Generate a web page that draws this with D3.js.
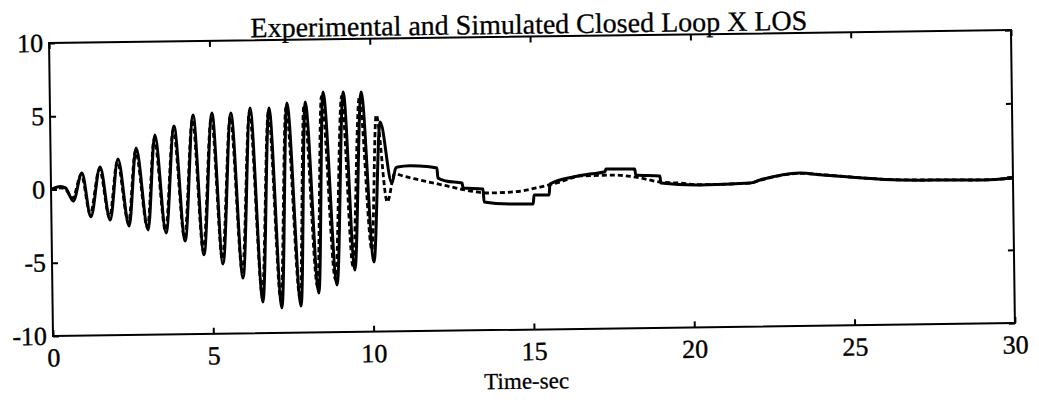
<!DOCTYPE html>
<html>
<head>
<meta charset="utf-8">
<script src="https://cdn.jsdelivr.net/npm/d3@7/dist/d3.min.js"></script>
<style>
  html, body { margin: 0; padding: 0; background: #fff; }
  svg { display: block; }
  text { font-family: "Liberation Serif", "Times New Roman", serif; fill: #000; }
</style>
</head>
<body>
<svg id="chart" width="1039" height="410"></svg>
<script>
// Experimental (solid) X line-of-sight response, time in seconds
const timeExp = [0, 0.3, 0.45, 0.69, 0.97, 1.23, 1.54, 1.83, 2.10, 2.42, 2.67, 3.01, 3.26, 3.57, 3.86, 4.16,
  4.46, 4.74, 5.05, 5.33, 5.64, 5.95, 6.24, 6.56, 6.83, 7.15, 7.39, 7.75, 7.96, 8.31, 8.52, 8.88,
  9.15, 9.44, 9.71, 10.04, 10.29, 10.63, 10.76, 10.82, 11.2, 11.51, 12.04, 12.07, 12.32, 12.82, 12.85,
  13.47, 13.50, 14.31, 15.03, 15.06, 15.53, 15.56, 16.28, 16.81, 17.28, 17.31, 18.21, 18.24, 18.99,
  19.02, 20.24, 21.80, 22.11, 23.36, 24.07, 24.92, 26.48, 28.04, 29.07, 30.0];
const xlosExp = [0, 0.2, 0.1, -0.8, 1.1, -1.9, 1.5, -2.14, 2.02, -2.56, 2.76, -2.85, 3.62, -3.07, 4.22, -3.64,
  4.96, -4.6, 5.08, -5.24, 5.06, -6.22, 5.38, -7.87, 5.37, -8.3, 5.69, -8.18, 5.74, -7.31, 6.41, -6.78,
  6.39, -5.77, 6.37, -5.24, 4.31, 0.13, 1.15, 1.22, 1.3, 1.26, 1.11, 0.43, 0.22, 0.07, -0.28,
  -0.36, -1.25, -1.41, -1.43, -0.82, -0.83, -0.08, 0.38, 0.56, 0.70, 0.89, 0.86, 0.45, 0.36,
  -0.12, -0.29, -0.2, 0.0, 0.44, 0.28, 0.12, -0.13, -0.18, -0.21, -0.1];

// Simulated (dashed) response
const timeSim = [0, 0.3, 0.45, 0.67, 0.95, 1.21, 1.52, 1.81, 2.08, 2.40, 2.65, 2.99, 3.24, 3.55, 3.84, 4.14,
  4.44, 4.72, 5.03, 5.31, 5.62, 5.93, 6.22, 6.54, 6.81, 7.12, 7.36, 7.72, 7.92, 8.27, 8.47, 8.83,
  9.10, 9.38, 9.65, 9.98, 10.17, 10.48, 10.73, 10.89, 11.51, 12.35, 12.76, 13.69, 14.41, 15.25,
  15.87, 16.50, 17.53, 18.37, 18.99, 19.62, 20.24, 21.80, 22.11, 23.36, 24.07, 24.92, 26.48, 28.04,
  29.07, 30.0];
const xlosSim = [0, 0.1, 0.0, -0.6, 1.0, -1.7, 1.35, -1.95, 1.85, -2.35, 2.55, -2.65, 3.35, -2.9, 3.95, -3.4,
  4.65, -4.3, 4.8, -4.9, 4.8, -5.8, 5.1, -7.3, 5.1, -7.8, 5.4, -7.7, 5.5, -6.9, 6.1, -6.4,
  6.1, -5.5, 6.0, -4.42, 4.79, -1.16, 0.81, 0.67, 0.31, -0.12, -0.34, -0.64, -0.59, -0.28,
  0.04, 0.44, 0.47, 0.25, -0.05, -0.14, -0.27, -0.2, -0.02, 0.42, 0.3, 0.12, -0.12, -0.17,
  -0.2, -0.1];

const xTickValues = [0, 5, 10, 15, 20, 25, 30];
const yTickValues = [-10, -5, 0, 5, 10];

const titleText = "Experimental and Simulated Closed Loop X LOS";
const xLabelText = "Time-sec";

const plot = { left: 53, top: 43, width: 962, height: 293 };
const tilt = -0.77;

const svg = d3.select("#chart");
const root = svg.append("g")
  .attr("transform", `rotate(${tilt},${plot.left},${plot.top + plot.height})`);

const x = d3.scaleLinear().domain([0, 30]).range([plot.left, plot.left + plot.width]);
const y = d3.scaleLinear().domain([-10, 10]).range([plot.top + plot.height, plot.top]);

const expData = timeExp.map((t, i) => [t, xlosExp[i]]);
const simData = timeSim.map((t, i) => [t, xlosSim[i]]);

const line = d3.line()
  .x(d => x(d[0]))
  .y(d => y(d[1]))
  .curve(d3.curveMonotoneX);

root.append("path")
  .datum(expData)
  .attr("d", line)
  .attr("fill", "none")
  .attr("stroke", "#000")
  .attr("stroke-width", 3)
  .attr("stroke-linejoin", "round");

root.append("path")
  .datum(simData)
  .attr("d", line)
  .attr("fill", "none")
  .attr("stroke", "#000")
  .attr("stroke-width", 2.8)
  .attr("stroke-dasharray", "5,3");

// Frame
root.append("rect")
  .attr("x", plot.left).attr("y", plot.top)
  .attr("width", plot.width).attr("height", plot.height)
  .attr("fill", "none").attr("stroke", "#000").attr("stroke-width", 2);

const fontSize = 26;

const bottomAxis = root.append("g")
  .attr("transform", `translate(0,${plot.top + plot.height})`)
  .call(d3.axisBottom(x).tickValues(xTickValues).tickSizeInner(-6).tickSizeOuter(0).tickPadding(12)
    .tickFormat(d3.format("d")));
const leftAxis = root.append("g")
  .attr("transform", `translate(${plot.left},0)`)
  .call(d3.axisLeft(y).tickValues(yTickValues).tickSizeInner(-6).tickSizeOuter(0).tickPadding(6)
    .tickFormat(d => d < 0 ? "-" + Math.abs(d) : String(d)));
const topAxis = root.append("g")
  .attr("transform", `translate(0,${plot.top})`)
  .call(d3.axisTop(x).tickValues(xTickValues).tickSizeInner(-6).tickSizeOuter(0).tickFormat(""));
const rightAxis = root.append("g")
  .attr("transform", `translate(${plot.left + plot.width},0)`)
  .call(d3.axisRight(y).tickValues(yTickValues).tickSizeInner(-6).tickSizeOuter(0).tickFormat(""));

[bottomAxis, leftAxis, topAxis, rightAxis].forEach(a => {
  a.select(".domain").remove();
  a.selectAll(".tick line").attr("stroke", "#000").attr("stroke-width", 2);
  a.selectAll(".tick text")
    .attr("font-family", "'Liberation Serif', 'Times New Roman', serif")
    .attr("font-size", fontSize)
    .attr("fill", "#000")
    .attr("stroke", "#000")
    .attr("stroke-width", 0.4);
});

root.append("text")
  .attr("x", plot.left + plot.width / 2 - 1)
  .attr("y", plot.top - 3)
  .attr("text-anchor", "middle")
  .attr("font-size", 28)
  .attr("stroke", "#000")
  .attr("stroke-width", 0.3)
  .text(titleText);

root.append("text")
  .attr("x", 526)
  .attr("y", 395)
  .attr("text-anchor", "middle")
  .attr("font-size", 23)
  .attr("stroke", "#000")
  .attr("stroke-width", 0.3)
  .text(xLabelText);
</script>
</body>
</html>
